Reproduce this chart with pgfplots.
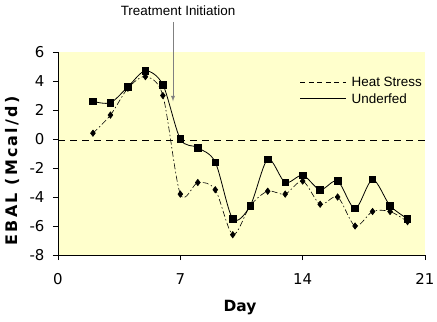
\documentclass[border=0pt]{standalone}
\usepackage{pgfplots}
\pgfplotsset{compat=1.18}
\usepackage{fontspec}
\setmainfont{DejaVu Sans}
\newfontfamily\arialfont{Liberation Sans}
\definecolor{bgyellow}{HTML}{FFFFCC}
\definecolor{arrowgray}{HTML}{808080}
\begin{document}
\begin{tikzpicture}
\useasboundingbox (0,0) rectangle (437bp,322bp);
\begin{axis}[
  at={(58bp,67bp)}, anchor=south west,
  scale only axis, width=367bp, height=203bp,
  xmin=0, xmax=21, ymin=-8, ymax=6,
  xtick={0,7,14,21}, ytick={-8,-6,-4,-2,0,2,4,6},
  axis x line*=bottom, axis y line*=left,
  axis line style={-, line width=0.6pt},
  tick style={black, line width=0.6pt},
  tick align=outside, major tick length=5bp,
  axis background/.style={fill=bgyellow},
  /pgf/number format/assume math mode=true,
  tick label style={font=\fontsize{15}{18}\selectfont},
  xticklabel style={yshift=-10bp},
  yticklabel style={xshift=-5bp},
  xlabel={\textbf{Day}}, ylabel={\textbf{\addfontfeature{LetterSpace=14}EBAL (Mcal/d)}},
  xlabel style={font=\fontsize{15.5}{18}\selectfont, at={(axis description cs:0.496,-0.261)}, anchor=center},
  ylabel style={font=\fontsize{16}{18}\selectfont, at={(axis description cs:-0.125,0.42)}, anchor=center},
  clip=false,
  legend style={draw=none, fill=none, at={(axis cs:13.84,4.4)}, anchor=north west,
    font=\arialfont\fontsize{13.5}{15}\selectfont, row sep=1bp, inner sep=0pt},
  legend cell align=left,
  legend image code/.code={\draw[#1] (0cm,0cm) -- (1.6cm,0cm); \path (1.72cm,0cm);},
]
\addplot[forget plot, black, line width=0.6pt, dash pattern=on 7bp off 5bp] coordinates {(0,-0.12) (21,-0.12)};
\addplot[forget plot, black, line width=0.6pt, smooth, tension=0.5,
  dash pattern=on 6bp off 2.5bp on 1.5bp off 2.5bp,
  mark=diamond*, mark size=3.2pt, mark options={solid, fill=black}] coordinates {
  (2,0.4) (3,1.65) (4,3.5) (5,4.3) (6,3.0) (7,-3.8) (8,-3.0) (9,-3.5) (10,-6.6)
  (11,-4.6) (12,-3.6) (13,-3.8) (14,-2.9) (15,-4.5) (16,-4.0) (17,-6.0) (18,-5.0)
  (19,-5.0) (20,-5.7)};
\addplot[forget plot, black, line width=0.8pt, smooth, tension=0.5,
  mark=square*, mark size=3.3pt, mark options={solid, fill=black}] coordinates {
  (2,2.6) (3,2.5) (4,3.6) (5,4.7) (6,3.75) (7,0) (8,-0.6) (9,-1.6) (10,-5.5)
  (11,-4.6) (12,-1.4) (13,-3.0) (14,-2.5) (15,-3.5) (16,-2.9) (17,-4.8) (18,-2.8)
  (19,-4.6) (20,-5.5)};
\addlegendimage{black, line width=0.8pt, dash pattern=on 5bp off 3.5bp}
\addlegendentry{Heat Stress}
\addlegendimage{black, line width=0.8pt}
\addlegendentry{Underfed}
\draw[arrowgray, line width=0.9pt, -{latex}] (axis cs:6.58,8.07) -- (axis cs:6.58,2.6);
\node[font=\arialfont\fontsize{13.5}{15}\selectfont, anchor=center] at (axis cs:6.87,8.83) {Treatment Initiation};
\end{axis}
\end{tikzpicture}
\end{document}
